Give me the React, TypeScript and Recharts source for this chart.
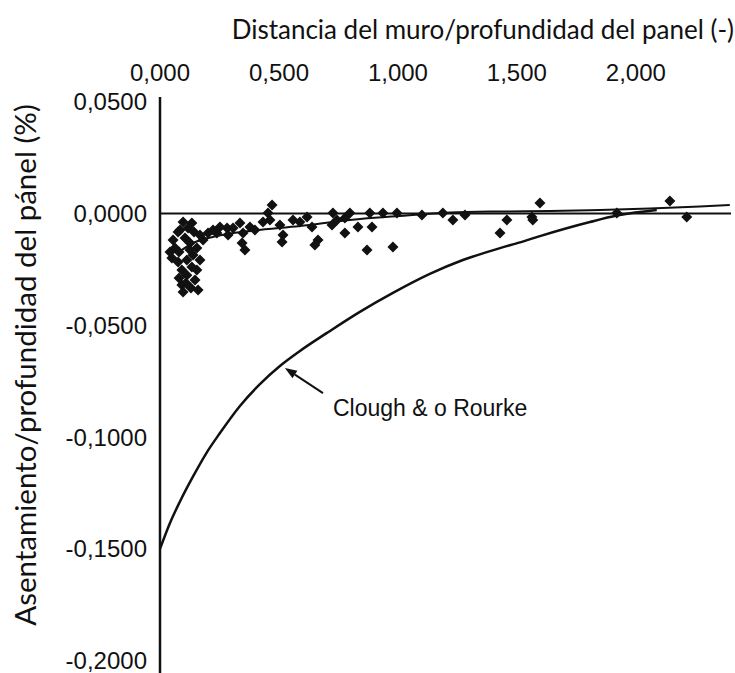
import React from 'react'
import {
  ComposedChart,
  Line,
  Scatter,
  XAxis,
  YAxis,
  ReferenceLine,
  Label,
} from 'recharts'

// measured points: distance from wall / panel depth (-) vs settlement / panel depth (%)
const measuredX = [
  0.097, 0.134, 0.084, 0.105, 0.063, 0.05, 0.076, 0.092, 0.113, 0.092, 0.097, 0.16,
  0.147, 0.155, 0.168, 0.139, 0.155, 0.181, 0.202, 0.239, 0.126, 0.113, 0.134, 0.126,
  0.08, 0.109, 0.055, 0.076, 0.042, 0.143, 0.118, 0.168, 0.08, 0.13,
  0.282, 0.286, 0.336, 0.349, 0.345, 0.357, 0.307, 0.378, 0.399, 0.471, 0.454, 0.462,
  0.504, 0.517, 0.513, 0.559, 0.618, 0.639, 0.664, 0.651, 0.727, 0.744, 0.723, 0.777,
  0.798, 0.777, 0.832, 0.882, 0.891, 0.87, 0.937, 0.996, 0.979, 1.101, 1.189, 1.231,
  1.282, 1.429, 1.458, 1.563, 1.567, 1.597, 1.92, 2.143, 2.214, 0.588, 0.433, 0.252,
  0.223,
]
const measuredY = [
  -0.0038, -0.0042, -0.0074, -0.011, -0.0154, -0.0199, -0.0217, -0.0253, -0.0276, -0.032, -0.0351, -0.0342,
  -0.0297, -0.0253, -0.0208, -0.0186, -0.0154, -0.0119, -0.0087, -0.0087, -0.0163, -0.0208, -0.0239, -0.0132,
  -0.0172, -0.0311, -0.0119, -0.0083, -0.0172, -0.0083, -0.0065, -0.0096, -0.0288, -0.0333,
  -0.0065, -0.0096, -0.0042, -0.0087, -0.0132, -0.0163, -0.0065, -0.006, -0.0074, 0.0038, 0.0002, -0.0029,
  -0.0051, -0.0096, -0.0127, -0.0029, -0.0016, -0.006, -0.0119, -0.0141, 0.0002, -0.0029, -0.0051, -0.002,
  0.0002, -0.0087, -0.006, 0.0002, -0.006, -0.0163, 0.0002, 0.0002, -0.015, -0.0007, 0.0002, -0.0029,
  -0.0007, -0.0087, -0.0029, -0.0016, -0.0029, 0.0047, 0.0002, 0.0056, -0.0016, -0.0038, -0.0038, -0.006,
  -0.0074,
]

// Clough & O'Rourke envelope
const cloughX = [
  0, 0.042, 0.084, 0.139, 0.197, 0.252, 0.336, 0.42, 0.504, 0.588, 0.702,
  0.84, 0.979, 1.134, 1.273, 1.429, 1.513, 1.597, 1.807, 1.92, 2.088,
]
const cloughY = [
  -0.15, -0.1384, -0.1288, -0.1176, -0.1068, -0.0982, -0.0861, -0.0763, -0.0682, -0.0615, -0.0534,
  -0.044, -0.0355, -0.027, -0.0208, -0.0155, -0.0129, -0.0101, -0.0038, -0.0009, 0.0016,
]

// trend through the measured points
const fitX = [0.08, 0.139, 0.239, 0.378, 0.588, 0.798, 1.008, 1.218, 1.429, 1.639, 1.849, 2.059, 2.269, 2.395]
const fitY = [-0.0172, -0.0132, -0.0101, -0.0078, -0.0056, -0.0029, -0.0011, 0.0004, 0.0009, 0.0011, 0.0016, 0.0022, 0.0031, 0.0038]

const xTicks = [0, 0.5, 1, 1.5, 2]
const yTicks = [0.05, 0, -0.05, -0.1, -0.15, -0.2]

const arrowFrom = { x: 0.685, y: -0.0803 }
const arrowTo = { x: 0.525, y: -0.0691 }
const curveName = 'Clough & o Rourke'
const xTitle = 'Distancia del muro/profundidad del panel (-)'
const yTitle = 'Asentamiento/profundidad del pánel (%)'

const zip = (xs: number[], ys: number[]) => xs.map((x, i) => ({ x, y: ys[i] }))
const measured = zip(measuredX, measuredY)
const clough = zip(cloughX, cloughY)
const fit = zip(fitX, fitY)

const ink = '#111'
const tickFont = { fill: ink, fontSize: 24, fontFamily: '"Liberation Sans", Arial, sans-serif' }
const titleFont = 'Lato, "Open Sans", sans-serif'

const Diamond = (props: any) => {
  const { cx, cy } = props
  const r = 5.5
  return <polygon points={`${cx},${cy - r} ${cx + r},${cy} ${cx},${cy + r} ${cx - r},${cy}`} fill={ink} />
}

const ArrowNote = (props: any) => {
  const { x1, y1, x2, y2 } = props
  const len = Math.hypot(x2 - x1, y2 - y1)
  const ux = (x2 - x1) / len
  const uy = (y2 - y1) / len
  const hl = 12
  const hw = 4.5
  const bx = x2 - ux * hl
  const by = y2 - uy * hl
  return (
    <g>
      <line x1={x1} y1={y1} x2={bx} y2={by} stroke={ink} strokeWidth={2} />
      <polygon
        points={`${x2},${y2} ${bx - uy * hw},${by + ux * hw} ${bx + uy * hw},${by - ux * hw}`}
        fill={ink}
      />
      <text x={x1 + 10} y={y1 + 23} fill={ink} fontSize={23} fontFamily={tickFont.fontFamily}>
        {curveName}
      </text>
    </g>
  )
}

const fmt = (digits: number) => (v: number) => v.toFixed(digits).replace('.', ',')

export default function App() {
  return (
    <div style={{ position: 'absolute', left: 0, top: 0, background: '#fff' }}>
      <ComposedChart width={735} height={673} margin={{ top: 67, right: 4, bottom: 0, left: 0 }}>
        <XAxis
          type="number"
          dataKey="x"
          orientation="top"
          height={30}
          domain={[0, 2.4]}
          ticks={xTicks}
          interval={0}
          axisLine={false}
          tickLine={false}
          tickMargin={10}
          tick={tickFont}
          tickFormatter={fmt(3)}
          allowDataOverflow
        >
          <Label
            content={() => (
              <text x={734} y={39} textAnchor="end" fill={ink} fontSize={26} fontFamily={titleFont}>
                {xTitle}
              </text>
            )}
          />
        </XAxis>
        <YAxis
          type="number"
          dataKey="y"
          width={160}
          domain={[-0.2055, 0.0521]}
          ticks={yTicks}
          interval={0}
          axisLine={{ stroke: ink, strokeWidth: 2.5 }}
          tickLine={false}
          tickMargin={7}
          tick={tickFont}
          tickFormatter={fmt(4)}
          allowDataOverflow
        >
          <Label
            content={() => (
              <text
                transform="translate(36, 365) rotate(-90)"
                textAnchor="middle"
                fill={ink}
                fontSize={29.5}
                fontFamily={titleFont}
              >
                {yTitle}
              </text>
            )}
          />
        </YAxis>
        <ReferenceLine y={0} stroke={ink} strokeWidth={2} />
        <Line
          data={clough}
          dataKey="y"
          type="monotone"
          stroke={ink}
          strokeWidth={2.5}
          dot={false}
          isAnimationActive={false}
        />
        <Line
          data={fit}
          dataKey="y"
          type="monotone"
          stroke={ink}
          strokeWidth={2}
          dot={false}
          isAnimationActive={false}
        />
        <Scatter data={measured} dataKey="y" shape={Diamond} isAnimationActive={false} />
        <ReferenceLine segment={[arrowFrom, arrowTo]} shape={ArrowNote} />
      </ComposedChart>
    </div>
  )
}
